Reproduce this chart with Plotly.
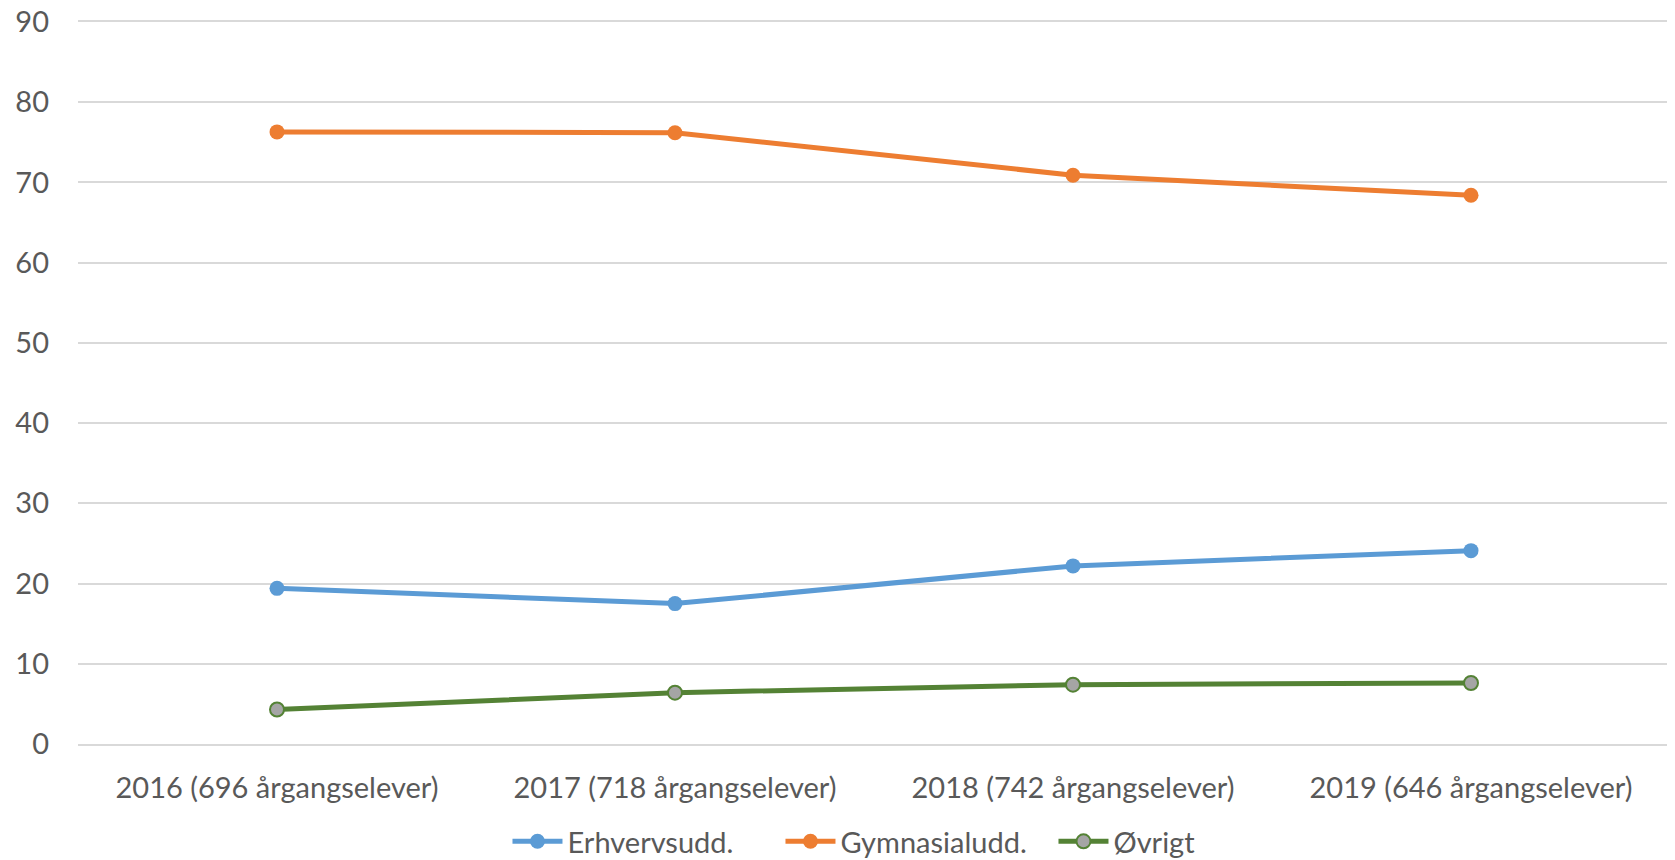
import plotly.graph_objects as go

categories = ["2016 (696 årgangselever)", "2017 (718 årgangselever)",
              "2018 (742 årgangselever)", "2019 (646 årgangselever)"]
erhverv = [19.4, 17.5, 22.2, 24.1]
gymnasial = [76.3, 76.2, 70.9, 68.4]
ovrigt = [4.3, 6.4, 7.4, 7.6]
y_ticks = [0, 10, 20, 30, 40, 50, 60, 70, 80, 90]

FONT = "Lato"
TXT = "#595959"
GRID = "#D9D9D9"

fig = go.Figure()
fig.add_trace(go.Scatter(x=categories, y=erhverv, name="Erhvervsudd.", mode="lines+markers",
                         line=dict(color="#5B9BD5", width=5),
                         marker=dict(size=15, color="#5B9BD5")))
fig.add_trace(go.Scatter(x=categories, y=gymnasial, name="Gymnasialudd.", mode="lines+markers",
                         line=dict(color="#ED7D31", width=5),
                         marker=dict(size=15, color="#ED7D31")))
fig.add_trace(go.Scatter(x=categories, y=ovrigt, name="Øvrigt", mode="lines+markers",
                         line=dict(color="#548235", width=5),
                         marker=dict(size=14, color="#A5A5A5", line=dict(color="#548235", width=2))))

fig.update_layout(
    width=1667, height=852,
    margin=dict(l=70, r=5, t=14, b=116, autoexpand=False),
    paper_bgcolor="white", plot_bgcolor="white",
    font=dict(family=FONT, size=29, color=TXT),
    showlegend=True,
    legend=dict(orientation="h", x=0.527, xanchor="center", y=-0.135, yanchor="middle",
                font=dict(family=FONT, size=29, color=TXT), itemwidth=50, tracegroupgap=0,
                entrywidth=208, entrywidthmode="pixels"),
    xaxis=dict(type="category", range=[-0.5, 3.5], showgrid=False, zeroline=False,
               showline=True, linecolor=GRID, linewidth=1.5, mirror=True, automargin=False,
               ticks="", ticklabelstandoff=17, tickfont=dict(size=29, color=TXT)),
    yaxis=dict(range=[0, 90], tickvals=y_ticks, showgrid=True, gridcolor=GRID, gridwidth=1.5,
               zeroline=False, showline=False, ticks="", ticklabelstandoff=28, automargin=False,
               ticklabeloverflow="allow", tickfont=dict(size=29, color=TXT)),
)

fig.write_html("out.html")
